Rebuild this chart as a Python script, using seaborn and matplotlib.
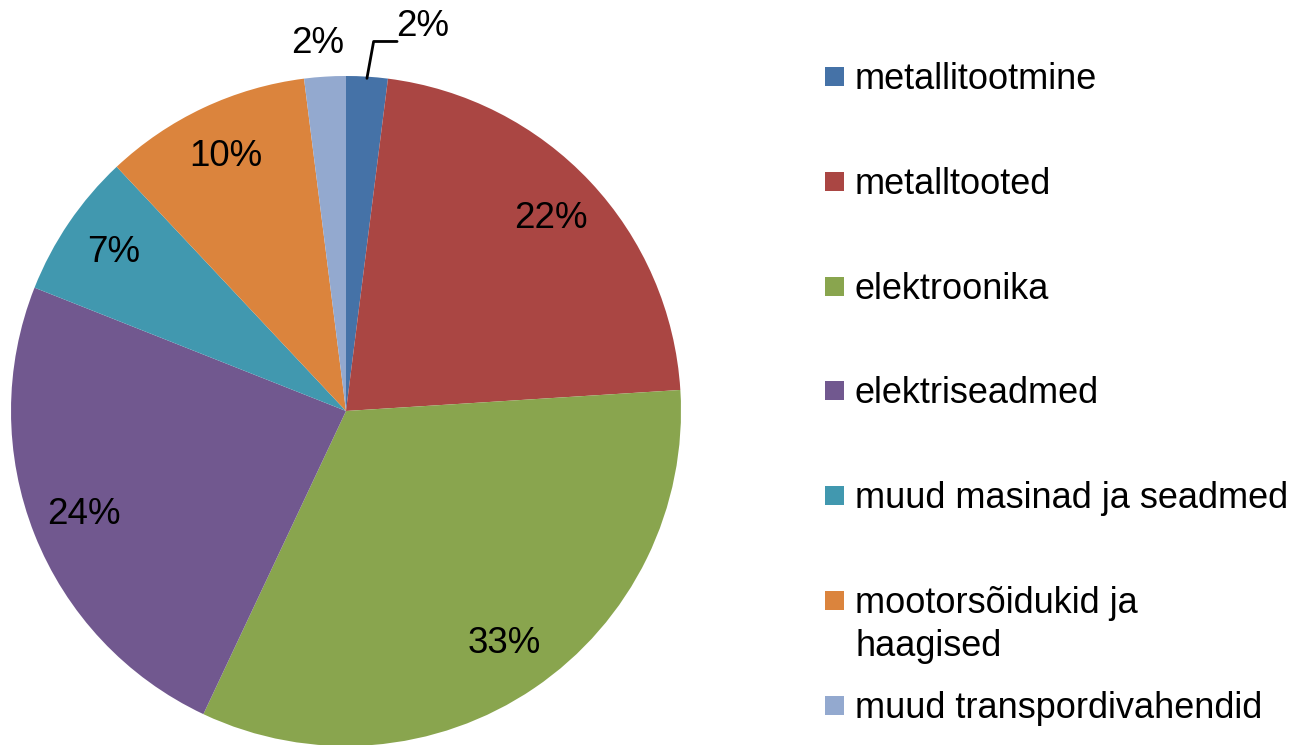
import numpy as np
import matplotlib
matplotlib.use("Agg")
import matplotlib.pyplot as plt
import seaborn as sns
from matplotlib.patches import Rectangle

# Andmed
kategooriad = ["metallitootmine", "metalltooted", "elektroonika", "elektriseadmed",
               "muud masinad ja seadmed", "mootorsõidukid ja\nhaagised",
               "muud transpordivahendid"]
osakaalud = [2, 22, 33, 24, 7, 10, 2]
varvid = ["#4572A7", "#AA4643", "#89A54E", "#71588F", "#4198AF", "#DB843D", "#93A9CF"]

sns.set_theme(style="white")
plt.rcParams["font.family"] = ["Liberation Sans", "DejaVu Sans"]

W, H = 1301, 745
fig = plt.figure(figsize=(W / 100, H / 100), dpi=100)
ax = fig.add_axes([11 / W, -1 / H, 670 / W, 670 / H])

paleta = sns.color_palette(varvid)
wedges, texts, autotexts = ax.pie(
    osakaalud, colors=paleta, startangle=90, counterclock=False,
    autopct="%1.0f%%", pctdistance=0.84, radius=1.0,
    wedgeprops=dict(linewidth=0), textprops=dict(fontsize=26.5, color="black"))
ax.set_xlim(-1, 1)
ax.set_ylim(-1, 1)
ax.set_aspect("equal")
ax.axis("off")

# väikeste sektorite sildid väljapoole
for i in [0, 6]:
    w = wedges[i]
    ang = np.deg2rad((w.theta1 + w.theta2) / 2)
    x, y = np.cos(ang), np.sin(ang)
    if i == 0:
        autotexts[i].set_position((x * 1.05 + 0.085, y * 1.05 + 0.1))
        autotexts[i].set_ha("left")
        ax.plot([x * 0.995, x * 0.995 + 0.02, x * 0.995 + 0.09],
                [y * 0.995, y * 0.995 + 0.11, y * 0.995 + 0.11],
                color="black", lw=2, clip_on=False)
    else:
        autotexts[i].set_position((x * 1.1 - 0.015, y * 1.1))
    autotexts[i].set_va("center")

# legend käsitsi (ridade asukohad pikslites)
baasjooned = [89, 194, 299, 403, 508, 613, 718]
for nimi, c, yb in zip(kategooriad, paleta, baasjooned):
    fig.patches.append(Rectangle((825 / W, 1 - (yb - 3) / H), 19 / W, 19 / H,
                                 transform=fig.transFigure, facecolor=c,
                                 edgecolor="none"))
    ridu = nimi.split("\n")
    for k, rida in enumerate(ridu):
        fig.text(855 / W, 1 - (yb + 43 * k) / H, rida, fontsize=26,
                 color="black", ha="left", va="baseline")

fig.savefig("out.png", dpi=100, facecolor="white")
